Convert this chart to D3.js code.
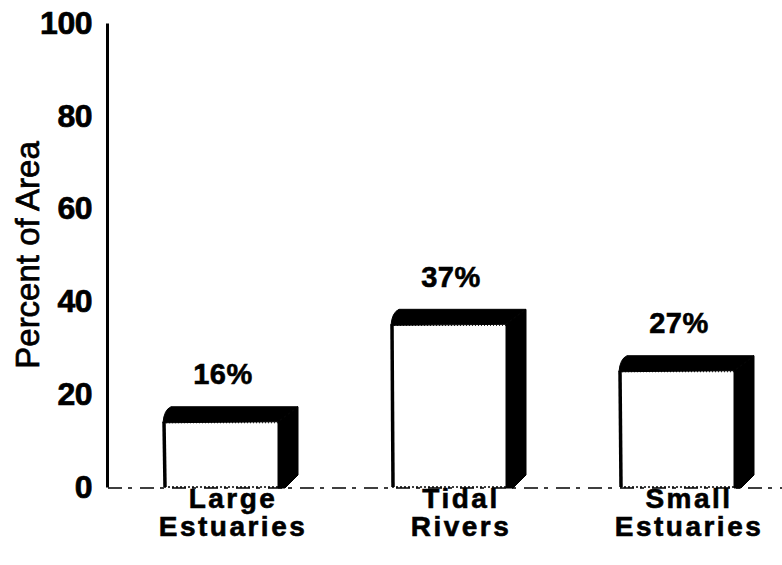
<!DOCTYPE html>
<html>
<head>
<meta charset="utf-8">
<script src="https://cdn.jsdelivr.net/npm/d3@7"></script>
<style>
  html, body { margin: 0; padding: 0; background: #fff; }
  svg { display: block; }
  text { font-family: "Liberation Sans", Arial, Helvetica, sans-serif; fill: #000; }
</style>
</head>
<body>
<svg id="chart" width="782" height="565"></svg>
<script>
// Share of area by water-body type
const categories = ["Large Estuaries", "Tidal Rivers", "Small Estuaries"];
const categoryLines = [["Large", "Estuaries"], ["Tidal", "Rivers"], ["Small", "Estuaries"]];
const percentValues = [16, 37, 27];
const valueLabels = ["16%", "37%", "27%"];
const yTicks = [0, 20, 40, 60, 80, 100];
const yTitle = "Percent of Area";

const svg = d3.select("#chart");
svg.append("rect").attr("width", 782).attr("height", 565).attr("fill", "#fff");

const y = d3.scaleLinear().domain([0, 100]).range([487, 23]);
const x = d3.scaleBand().domain(categories).range([107, 791])
  .paddingInner(0.5).paddingOuter(0.25);

// Box depth for the 3-D look
const depthX = 20, depthY = 15, capInset = 7;

// Zero line (dashed) along the floor
svg.append("line")
  .attr("x1", 108).attr("x2", 782)
  .attr("y1", y(0) + 1).attr("y2", y(0) + 1)
  .attr("stroke", "#000").attr("stroke-width", 1.6)
  .attr("stroke-dasharray", "14,6,4,8");

// Y axis
const yAxis = d3.axisLeft(y).tickValues(yTicks).tickSize(0).tickPadding(15);
const gy = svg.append("g").attr("transform", "translate(107,0)").call(yAxis);
gy.select(".domain").attr("stroke", "#000").attr("stroke-width", 3);
gy.selectAll(".tick text")
  .attr("font-family", "Liberation Sans, Arial, sans-serif")
  .attr("font-size", 32).attr("font-weight", "bold")
  .attr("fill", "#000").attr("stroke", "#000").attr("stroke-width", 0.7)
  .attr("letter-spacing", -0.5);

// Axis title
svg.append("text")
  .attr("transform", `translate(39,${255}) rotate(-90)`)
  .attr("text-anchor", "middle")
  .attr("font-size", 33)
  .attr("stroke", "#000").attr("stroke-width", 0.7)
  .text(yTitle);

// Bars
const bars = svg.append("g").selectAll("g.bar")
  .data(categories.map((c, i) => ({ c, v: percentValues[i], label: valueLabels[i], lines: categoryLines[i] })))
  .join("g").attr("class", "bar");

bars.each(function(d) {
  const g = d3.select(this);
  const x0 = x(d.c), x1 = x(d.c) + x.bandwidth();
  const base = y(0);
  const yBack = y(d.v) - 6;
  const yFront = yBack + depthY;

  // front face
  g.append("rect")
    .attr("x", x0).attr("y", yFront)
    .attr("width", x1 - x0).attr("height", base - yFront)
    .attr("fill", "#fff");
  // dotted bottom edge and top edge texture
  g.append("line")
    .attr("x1", x0).attr("x2", x1).attr("y1", base).attr("y2", base)
    .attr("stroke", "#000").attr("stroke-width", 1.5).attr("stroke-dasharray", "2,2");
  g.append("line")
    .attr("x1", x0 + 2).attr("x2", x1).attr("y1", yFront + 1).attr("y2", yFront + 1)
    .attr("stroke", "#000").attr("stroke-width", 1).attr("stroke-dasharray", "1,2");
  // left edge
  g.append("line")
    .attr("x1", x0).attr("x2", x0 + 1).attr("y1", yFront).attr("y2", base)
    .attr("stroke", "#000").attr("stroke-width", 3.5);

  // top cap
  g.append("path")
    .attr("d", `M${x0 - 1},${yFront + 1} Q${x0},${yBack + 3} ${x0 + capInset},${yBack}
                L${x1 + depthX},${yBack} L${x1},${yFront} Z`)
    .attr("fill", "#000").attr("stroke", "#000").attr("stroke-width", 1);

  // right side
  g.append("path")
    .attr("d", `M${x1},${yFront} L${x1 + depthX},${yBack} L${x1 + depthX},${base - 12}
                L${x1 + 7},${base + 1} L${x1},${base + 1} Z`)
    .attr("fill", "#000").attr("stroke", "#000").attr("stroke-width", 1);

  // value label
  g.append("text")
    .attr("x", (x0 + x1) / 2 + 2).attr("y", yBack - 33)
    .attr("dy", "0.36em")
    .attr("text-anchor", "middle")
    .attr("font-size", 29).attr("font-weight", "bold")
    .attr("letter-spacing", 0.5)
    .attr("stroke", "#000").attr("stroke-width", 0.6)
    .text(d.label);

  // category label, two lines
  d.lines.forEach((ln, k) => {
    g.append("text")
      .attr("x", (x0 + x1) / 2 + 12)
      .attr("y", 508 + k * 28)
      .attr("text-anchor", "middle")
      .attr("font-size", 28).attr("font-weight", "bold")
      .attr("letter-spacing", 2.5)
      .attr("stroke", "#000").attr("stroke-width", 0.6)
      .text(ln);
  });
});
</script>
</body>
</html>
